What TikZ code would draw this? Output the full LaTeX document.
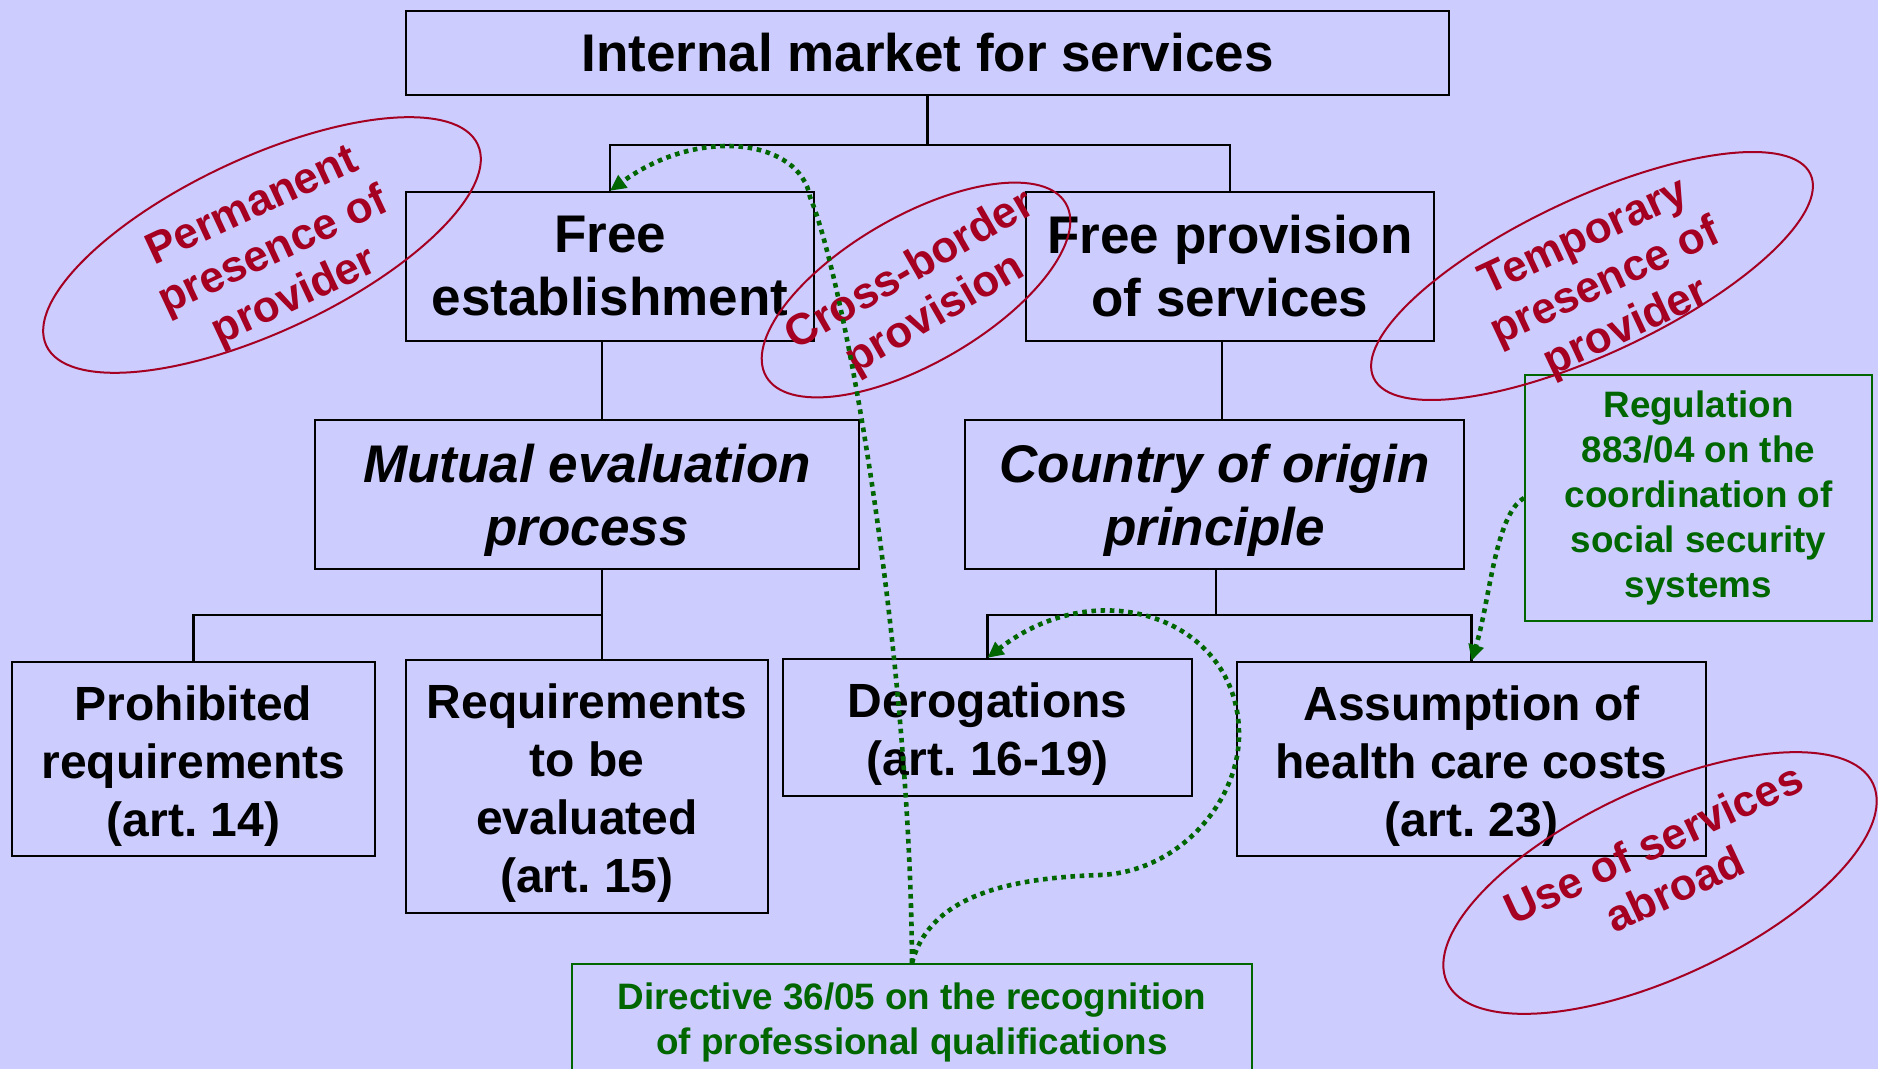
\documentclass[tikz,border=0pt]{standalone}
\usepackage{fontspec}
\setmainfont{Liberation Sans}
\usetikzlibrary{shapes.geometric,arrows.meta}
\definecolor{pagebg}{HTML}{CCCCFF}
\definecolor{ovalred}{HTML}{A50021}
\definecolor{lawgreen}{HTML}{006600}
\frenchspacing

\begin{document}
\begin{tikzpicture}[x=0.5pt,y=-0.5pt,
  box/.style={draw=black, line width=1.2pt, align=center, inner sep=0pt,
    font=\bfseries\fontsize{26.5}{31.5}\selectfont},
  frame/.style={draw=black, line width=1.2pt, inner sep=0pt},
  ittext/.style={align=center, inner sep=0pt, yshift=-3pt,
    font=\bfseries\itshape\fontsize{26.5}{31.5}\selectfont},
  leaftext/.style={align=center, inner sep=0pt, yshift=-3.5pt,
    font=\bfseries\fontsize{24}{29}\selectfont},
  lawbox/.style={draw=lawgreen, line width=1pt, text=lawgreen, align=center, inner sep=0pt,
    font=\bfseries\fontsize{18.4}{22.4}\selectfont},
  tree/.style={draw=black, line width=1.1pt},
  ovalring/.style={draw=ovalred, line width=1pt, ellipse, inner sep=0pt},
  ovaltext/.style={text=ovalred, align=center, inner sep=0pt,
    font=\bfseries\fontsize{22}{25}\selectfont},
  link/.style={draw=lawgreen, line width=2.3pt, dash pattern=on 2.3pt off 2.3pt,
    -{Triangle[length=8pt,width=7.5pt]}}]

\fill[pagebg] (0,0) rectangle (1878,1069);
\useasboundingbox (0,0) rectangle (1878,1069);
\clip (0,0) rectangle (1878,1069);

% top two levels
\node[box, minimum width=521.5pt, minimum height=42pt] (title) at (927.5,53) {Internal market for services};
\node[box, minimum width=204pt, minimum height=74.5pt] (fe) at (610,266.5) {Free\\establishment};
\node[box, minimum width=204pt, minimum height=74.5pt] (fp) at (1230,266.5) {Free provision\\of services};

% principle level
\node[frame, minimum width=272pt, minimum height=74.5pt] (mut) at (587,494.5) {};
\node[ittext] (mutT) at (mut.center) {Mutual evaluation\\process};
\node[frame, minimum width=249.5pt, minimum height=74.5pt] (coo) at (1214.5,494.5) {};
\node[ittext] (cooT) at (coo.center) {Country of origin\\principle};

% article level
\node[frame, minimum width=181.5pt, minimum height=97pt] (pro) at (193.5,759) {};
\node[leaftext] (proT) at (pro.center) {Prohibited\\requirements\\(art. 14)};
\node[frame, minimum width=181pt, minimum height=126.5pt] (req) at (587,786.5) {};
\node[leaftext] (reqT) at (req.center) {Requirements\\to be\\evaluated\\(art. 15)};
\node[frame, minimum width=204.5pt, minimum height=68.5pt] (der) at (987.5,727.5) {};
\node[leaftext] (derT) at (der.center) {Derogations\\(art. 16-19)};
\node[frame, minimum width=234.5pt, minimum height=97pt] (ass) at (1471.5,759) {};
\node[leaftext] (assT) at (ass.center) {Assumption of\\health care costs\\(art. 23)};

% legal instruments
\node[lawbox, minimum width=173.5pt, minimum height=123pt] (reg) at (1698.5,498) {Regulation\\883/04 on the\\coordination of\\social security\\systems};
\node[lawbox, minimum width=340pt, minimum height=58.5pt] (dir) at (912,1022.5) {Directive 36/05 on the recognition\\of professional qualifications};

% tree connectors
\coordinate (spineL) at (602,0);
\coordinate (spineR) at (1222,0);
\coordinate (spineR2) at (1216,0);
\draw[tree] (title.south) -- ++(0,49) -| (fe.north);
\draw[tree] (title.south) -- ++(0,49) -| (fp.north);
\draw[tree] (fe.south -| spineL) -- (mut.north -| spineL);
\draw[tree] (fp.south -| spineR) -- (coo.north -| spineR);
\draw[tree] (mut.south -| spineL) -- (req.north -| spineL);
\draw[tree] (mut.south -| spineL) -- ++(0,45) -| (pro.north);
\draw[tree] (coo.south -| spineR2) -- ++(0,45) -| (der.north);
\draw[tree] (coo.south -| spineR2) -- ++(0,45) -| (ass.north);

% presence ovals
\node[ovalring, minimum width=238pt, minimum height=87pt, rotate=25] (permO) at (262,245) {};
\node[ovaltext, rotate=25] (permT) at (274,253) {Permanent\\presence of\\provider};
\node[ovalring, minimum width=173pt, minimum height=73.5pt, rotate=30] (crossO) at (916,290) {};
\node[ovaltext, rotate=30] (crossT) at (923,293) {Cross-border\\provision};
\node[ovalring, minimum width=241pt, minimum height=78pt, rotate=25] (tempO) at (1592,276) {};
\node[ovaltext, rotate=25] (tempT) at (1606,284) {Temporary\\presence of\\provider};
\node[ovalring, minimum width=235pt, minimum height=94pt, rotate=25] (useO) at (1660,883) {};
\node[ovaltext, rotate=25] (useT) at (1664,866) {Use of services\\abroad};

% dotted references
\draw[link] (dir.north) .. controls (910,650) and (845,280) .. (810,197)
  .. controls (800,140) and (700,125) .. (fe.north);
\draw[link] (dir.north) .. controls (930,895) and (1010,878) .. (1100,875)
  .. controls (1180,872) and (1240,800) .. (1239,733)
  .. controls (1238,620) and (1100,570) .. (der.north);
\draw[link] (reg.west) .. controls (1495,515) and (1490,600) .. (ass.north);
\end{tikzpicture}
\end{document}
